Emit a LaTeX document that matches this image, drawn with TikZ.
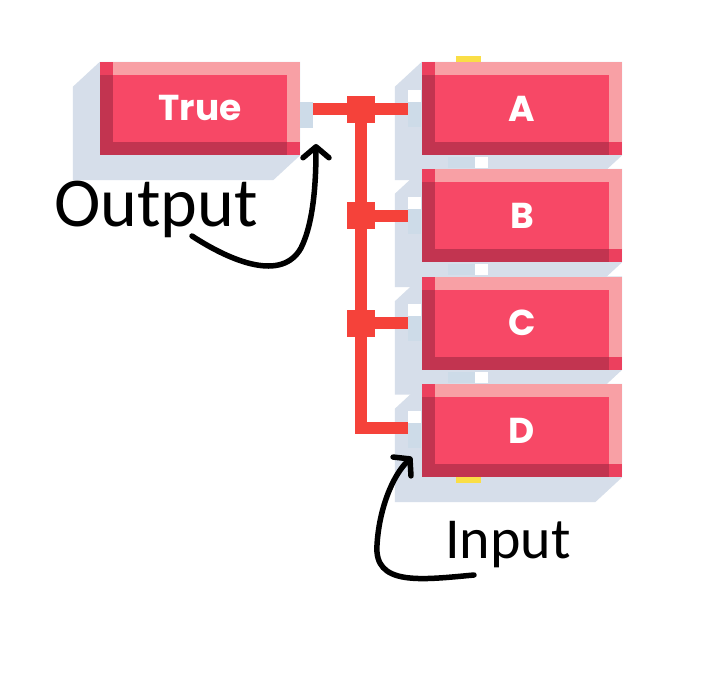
\documentclass[tikz,border=0pt]{standalone}
\usepackage{fontspec}
\newfontfamily\pop{Poppins}
\newfontfamily\cali{Carlito}
\usetikzlibrary{backgrounds,arrows.meta,calc}
\definecolor{mainred}{RGB}{247,72,102}
\definecolor{lite}{RGB}{248,160,165}
\definecolor{darkred}{RGB}{194,52,80}
\definecolor{midred}{RGB}{236,64,94}
\definecolor{shadowblue}{RGB}{214,222,234}
\definecolor{portblue}{RGB}{205,219,232}
\definecolor{wirered}{RGB}{245,66,58}
\definecolor{yel}{RGB}{250,222,70}
\begin{document}
\begin{tikzpicture}[x=1pt,y=-1pt,
  blk/.style={rectangle, minimum width=200pt, minimum height=93pt, inner sep=0pt,
    fill=mainred, text=white, font={\pop\bfseries\fontsize{36}{40}\selectfont},
    path picture={
      \fill[lite] (path picture bounding box.north west) rectangle ([yshift=-13pt]path picture bounding box.north east);
      \fill[lite] ([xshift=-13pt]path picture bounding box.north east) rectangle (path picture bounding box.south east);
      \fill[darkred] ([yshift=-13pt]path picture bounding box.north west) rectangle ([xshift=13pt]path picture bounding box.south west);
      \fill[darkred] (path picture bounding box.south west) rectangle ([xshift=-13pt,yshift=13pt]path picture bounding box.south east);
      \fill[midred] (path picture bounding box.north west) rectangle ([xshift=13pt,yshift=-13pt]path picture bounding box.north west);
      \fill[midred] ([xshift=-13pt,yshift=13pt]path picture bounding box.south east) rectangle (path picture bounding box.south east);
    }},
  portbox/.style={rectangle, fill=portblue, inner sep=0pt, minimum width=13pt, minimum height=25pt, anchor=north west},
  notch/.style={rectangle, fill=white, inner sep=0pt, minimum width=13pt, minimum height=12pt, anchor=north west},
  wire/.style={draw=wirered, line width=12pt},
  junc/.style={rectangle, fill=wirered, inner sep=0pt, minimum width=28pt, minimum height=27pt},
  hand/.style={draw=black, line width=5.5pt, line cap=round, line join=round,
    -{Straight Barb[length=11pt,width=26pt,line cap=round,line join=round]}},
  lbl/.style={inner sep=0pt, anchor=base west, text=black}
]
\useasboundingbox (0,0) rectangle (720,683);

% blocks
\node[blk] (T) at (200,108.5) {True};
\node[blk] (A) at (522,108.5) {A};
\node[blk] (B) at (522,215.5) {B};
\node[blk] (C) at (522,323) {C};
\node[blk] (D) at (522,430.5) {D};

% shadows
\begin{scope}[on background layer]
\fill[white] (0,0) rectangle (720,683);
\foreach \n in {T,A,B,C,D}{
  \fill[shadowblue] (\n.north west) -- ([xshift=-27pt,yshift=-25pt]\n.north west)
    -- ([xshift=-27pt,yshift=-25pt]\n.south west) -- ([xshift=-27pt,yshift=-25pt]\n.south east)
    -- (\n.south east) -- (\n.north east) -- cycle;
}
\end{scope}

% gaps between stacked blocks
\foreach \y in {157,264,372}{
  \fill[portblue] (448,\y) rectangle (475,\y+11);
  \fill[white] (475,\y) rectangle (488,\y+11);
}

% yellow tabs
\fill[yel] (456,56) rectangle (481,62);
\fill[yel] (456,477) rectangle (481,483);

% ports
\node[portbox, minimum height=26pt] (outT) at (300,102) {};
\node[notch] (nA) at (408,90) {};
\node[portbox] (inA) at (408,102) {};
\node[notch] (nB) at (408,197) {};
\node[portbox] (inB) at (408,209) {};
\node[notch] (nC) at (408,304) {};
\node[portbox] (inC) at (408,316) {};
\node[notch] (nD) at (408,411) {};
\node[portbox] (inD) at (408,423) {};

% wires
\coordinate (bus) at (361,109);
\draw[wire] (outT.east |- bus) -- (inA.west |- bus);
\draw[wire] (bus |- B) -- (inB.west |- B);
\draw[wire] (bus |- C) -- (inC.west |- C);
\draw[wire, line join=miter] (bus) |- (inD.west |- 0,427.5);
\node[junc] (jA) at (bus) {};
\node[junc] (jB) at (bus |- B) {};
\node[junc] (jC) at (bus |- C) {};

% labels
\node[lbl, font={\cali\fontsize{70}{80}\selectfont}] (out) at (54,226) {Output};
\node[lbl, font={\cali\fontsize{58}{66}\selectfont}] (in) at (445,558) {Input};

% hand-drawn arrows
\coordinate (oStart) at (192,236);
\coordinate (oTip) at (316,144);
\coordinate (iStart) at (474,575);
\coordinate (iTip) at (412,457);
\draw[hand] (oStart) .. controls (232,262) and (282,282) .. (301,248)
  .. controls (314,222) and (316,180) .. (oTip);
\draw[hand] (iStart) .. controls (420,580) and (374,586) .. (377,545)
  .. controls (379,510) and (392,476) .. (iTip);
\end{tikzpicture}
\end{document}
